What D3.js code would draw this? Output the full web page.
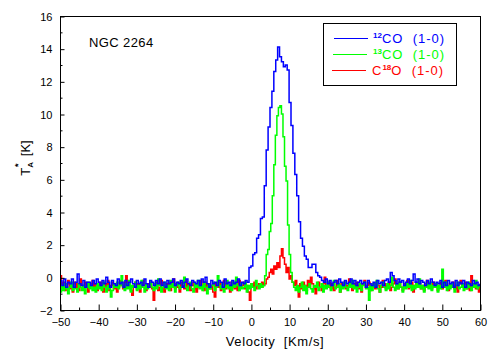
<!DOCTYPE html>
<html>
<head>
<meta charset="utf-8">
<script src="https://cdn.jsdelivr.net/npm/d3@7"></script>
<style>
  body { margin: 0; background: #fff; }
  svg { display: block; }
  text { font-family: "Liberation Sans", Arial, sans-serif; }
</style>
</head>
<body>
<svg id="chart" width="498" height="355"></svg>
<script>
// velocity grid (km/s): first channel and channel width of each spectrum
const V_START = -50
const CO12_STEP = 0.5
const CO13_STEP = 0.4
const C18O_STEP = 0.4

// 12CO (1-0), T_A* [K], one value per 0.5 km/s channel from -50 to 60
const co12 = [
  -0.2, -0.5, -0.1, -0.6, -0.3, -0.4, -0.1, -0.6, -0.3, 0.2,
  -0.4, -0.5, -0.2, -0.6, -0.3, -0.3, -0.5, -0.2, -0.4, -0.1,
  -0.3, -0.5, -0.2, -0.4, 0.0, -0.3, -0.6, -0.2, -0.4, -0.5,
  -0.1, -0.4, -0.3, -0.6, -0.2, -0.5, -0.3, -0.1, -0.4, -0.6,
  -0.2, -0.4, -0.3, -0.5, -0.1, -0.4, -0.6, -0.2, -0.3, -0.5,
  -0.2, -0.4, -0.1, -0.5, -0.3, -0.6, -0.2, -0.4, -0.3, -0.1,
  -0.5, -0.3, -0.4, -0.2, -0.6, -0.3, -0.1, -0.4, -0.5, -0.2,
  -0.3, -0.4, -0.2, -0.5, -0.1, -0.3, 0.0, -0.4, -0.6, -0.2,
  -0.4, -0.3, -0.5, -0.2, -0.3, -0.6, -0.1, -0.4, -0.3, -0.5,
  -0.2, -0.4, -0.3, -0.1, -0.5, -0.3, -0.4, -0.2,
  // line
  -0.3, 0.6, 0.7, 1.4, 1.5, 2.4, 2.6, 3.6, 3.7, 5.6,
  7.8, 9.2, 10.4, 11.4, 12.6, 13.3, 14.1, 13.5, 13.2, 12.9,
  13.0, 12.7, 10.7, 9.3, 7.6, 6.3, 5.0, 3.4, 2.4, 1.9,
  1.3, 1.1, 0.6, 0.6, 0.8, 0.8, 0.3, 0.1, 0.0, -0.2,
  // baseline
  -0.3, -0.1, -0.4, -0.2, -0.5, -0.3, -0.2, -0.4, -0.1, -0.3,
  -0.5, -0.2, -0.4, -0.3, -0.1, -0.4, -0.2, -0.5, -0.3, -0.2,
  -0.4, -0.3, -0.6, -0.2, -0.4, -0.5, -0.3, -0.6, -0.2, -0.4,
  -0.3, -0.5, -0.2, -0.1, -0.3, 0.3, 0.1, -0.2, -0.4, -0.1,
  -0.3, -0.2, -0.5, -0.3, -0.1, -0.4, -0.2, 0.2, -0.3, -0.1,
  -0.4, -0.2, -0.3, -0.5, -0.2, -0.4, -0.1, -0.3, -0.5, -0.3,
  -0.4, -0.2, -0.6, -0.3, -0.5, -0.2, -0.4, -0.3, -0.6, -0.2,
  -0.5, -0.3, -0.4, -0.2, -0.6, -0.3, -0.4, -0.5, -0.2, -0.4,
  -0.3, -0.5, -0.4
]

// 13CO (1-0), one value per 0.4 km/s channel
const co13 = [
  -0.9, -0.5, -0.8, -0.4, -0.7, -1.0, -0.6, -0.3, -0.8, -0.5,
  -0.7, -0.9, -0.4, -0.6, -0.8, -0.5, -1.0, -0.6, -0.3, -0.7,
  -0.5, -0.8, -0.6, -0.9, -0.4, -0.7, -0.5, -0.8, -0.3, -0.6,
  -0.9, -0.5, -0.7, -1.2, -0.8, -0.4, -0.6, -0.3, -0.7, -0.5,
  0.1, -0.6, -0.8, -0.4, -0.7, -0.2, -0.9, -0.5, -0.6, -0.3,
  -0.8, -0.5, -0.7, -0.2, -0.6, -0.9, -0.4, -0.7, -0.5, -0.3,
  -0.6, -0.8, -0.4, -0.7, -0.1, -0.5, -0.9, -0.6, -0.3, -0.7,
  -0.5, -0.8, -0.2, -0.6, -0.4, -0.9, -0.5, -0.3, -0.7, -0.6,
  -0.4, 0.0, -0.6, -0.8, -0.5, -0.3, -0.7, -0.9, -0.4, -0.6,
  -0.2, -0.7, -0.5, -0.8, -0.3, -0.6, -1.0, -0.4, -0.7, -0.5,
  -0.3, -0.8, -0.6, 0.1, -0.5, -0.7, -0.4, -0.9, -0.6, -0.2,
  -0.7, -0.5, -0.8, -0.3, -0.6, 0.0, -0.5, -0.8, -0.4, -0.7,
  -0.6, -0.3, -0.9, -0.5, -0.7, -0.4, -0.6, -0.8, -0.2, -0.5,
  -0.7, -0.4, -0.6,
  // line
  -0.5, 0.1, 1.4, 1.7, 2.8, 3.3, 5.0, 6.9, 8.7, 9.9,
  10.4, 10.5, 10.0, 8.6, 6.8, 5.9, 3.2, 1.4, 0.3, -0.3,
  -0.6, -0.8,
  // baseline
  -0.5, -0.9, -0.6, -0.3, -0.8, -0.5, -1.0, -0.6, -0.4, -0.7,
  -0.9, -0.5, -0.6, -0.3, -0.8, -0.6, -0.4, -0.9, -0.5, -0.7,
  -0.3, -0.6, -0.8, -0.5, -0.2, -0.7, -0.6, -0.4, -0.9, -0.5,
  -0.7, -0.3, -0.6, -0.8, -0.4, -0.6, -0.2, -0.7, -0.5, -0.9,
  -0.6, -0.4, -0.8, -0.5, -0.3, -0.7, -0.6, -1.4, -0.5, -0.8,
  -0.4, -0.6, -0.2, -0.7, -0.9, -0.5, -0.3, -0.6, -0.8, -0.4,
  -0.7, -0.5, 0.0, -0.6, -0.8, -0.4, -0.7, -0.3, -0.6, -0.9,
  -0.5, -0.7, -0.4, -0.6, -0.2, -0.8, -0.5, -0.7, -0.3, -0.6,
  -0.1, -0.7, -0.5, -0.9, -0.6, -0.4, -0.7, -0.3, -0.8, -0.5,
  -0.6, -0.4, -0.9, -0.5, -0.7, 0.5, -0.6, -0.3, -0.8, -0.5,
  -0.7, -0.4, -0.6, -0.9, -0.5, -0.3, -0.7, -0.6, -0.4, -0.8,
  -0.5, -0.7, -0.3, -0.6, -0.8, -0.4, -0.6, -0.2, -0.7, -0.5,
  -0.6
]

// C18O (1-0), one value per 0.4 km/s channel
const c18o = [
  0.1, -0.6, -0.3, -0.8, -0.4, -0.2, -0.7, -0.5, -0.9, -0.3,
  -0.6, -0.4, -0.8, -0.1, -0.5, -0.7, -0.3, -0.6, -0.9, -0.4,
  -0.5, -0.2, -0.7, -0.4, -0.8, -0.5, -0.3, -0.6, -0.9, -0.4,
  -0.6, -0.2, -0.8, -0.5, -0.3, -0.7, -0.4, -0.9, -0.6, -0.2,
  -0.5, -0.7, -0.3, 0.1, -0.6, -0.4, -0.8, -1.1, -0.5, -0.3,
  -0.7, -0.4, -0.9, -0.6, -0.2, -0.5, -0.8, -0.4, -0.6, -0.3,
  -0.7, -1.4, -0.5, -0.3, -0.8, -0.6, -0.2, -0.5, -0.9, -0.4,
  -0.6, -0.3, -0.8, -0.5, -0.1, -0.7, -0.4, -0.6, -0.9, -0.3,
  -0.5, -0.7, -0.2, -0.6, -0.4, -0.8, -0.5, -0.3, -0.7, -0.9,
  -0.4, -0.6, -0.2, -0.5, -0.8, -0.3, -0.6, -0.4, -0.7, -0.5,
  -0.9, -1.2, -0.4, -0.6, -0.3, -0.8, -0.5, -0.2, -0.7, -0.4,
  -0.6, -0.9, -0.3, -0.5, -0.7, -0.4, -0.8, -0.2, -0.6, -0.5,
  -0.3, -0.7, -0.5, -0.9, -1.4, -0.4, -0.6, -0.3, -0.7, -0.5,
  -0.4, -0.6, -0.3, -0.5,
  // line
  -0.4, -0.1, 0.0, 0.3, 0.5, 0.2, 0.7, 0.5, 0.9, 0.6,
  1.3, 1.75, 1.2, 0.8, 0.3, 0.6, -0.1, 0.1, -0.3, -0.5,
  -0.2,
  // baseline
  -0.6, -1.2, -0.4, -0.7, -0.3, -0.5, -0.8, -0.2, -0.6, 0.0,
  -0.4, -0.7, -1.0, -0.5, -0.3, -0.6, -0.8, -0.4, 0.0, -0.6,
  -0.5, -0.3, -0.7, -0.4, -0.8, -0.6, -0.2, -0.5, -0.9, -0.4,
  -0.6, -0.3, -0.7, -0.5, -0.1, -0.6, -0.8, -0.4, -0.6, -0.3,
  -0.7, -0.5, -0.9, -0.4, -0.2, -0.6, -0.5, -0.3, -0.8, -0.6,
  -0.4, -0.7, -0.3, -0.5, -0.9, -0.6, -0.2, -0.4, -0.7, -0.5,
  -0.3, -0.8, -0.6, -0.4, -0.1, -0.5, -0.7, -0.3, -0.6, -0.8,
  -0.4, -0.5, -0.2, -0.7, -0.6, -0.3, -0.9, -0.5, -0.4, -0.6,
  -0.3, -0.7, -0.5, -0.8, -0.4, -0.2, -0.6, -0.5, -0.7, -0.3,
  -0.6, -0.4, -0.8, -0.5, -0.3, -0.7, -0.6, -0.2, -0.5, -0.8,
  -0.4, -0.6, -0.3, -0.7, -0.5, -0.9, -0.4, -0.2, -0.6, -0.5,
  -0.3, -0.7, -0.5, -0.8, 0.1, -0.6, -0.4, -0.7, -0.5, -0.9,
  -0.4
]

const xMajor = [-50, -40, -30, -20, -10, 0, 10, 20, 30, 40, 50, 60]
const xMinor = [-45, -35, -25, -15, -5, 5, 15, 25, 35, 45, 55]
const yMajor = [-2, 0, 2, 4, 6, 8, 10, 12, 14, 16]
const yMinor = [-1, 1, 3, 5, 7, 9, 11, 13, 15]

const series = [
  { name: ['', 'C', '18', 'O (1-0)'], color: '#ff0000', step: C18O_STEP, values: c18o },
  { name: ['13', 'CO (1-0)'], color: '#00ff00', step: CO13_STEP, values: co13 },
  { name: ['12', 'CO (1-0)'], color: '#0000ff', step: CO12_STEP, values: co12 }
]

const plotLeft = 60, plotRight = 480, plotTop = 16, plotBottom = 310

const svg = d3.select('#chart')

const x = d3.scaleLinear().domain([-50, 60]).range([plotLeft, plotRight])
const y = d3.scaleLinear().domain([-2, 16]).range([plotBottom, plotTop])

// 描画範囲のクリップ
svg.append('defs').append('clipPath').attr('id', 'plot-clip')
  .append('rect')
  .attr('x', plotLeft).attr('y', plotTop)
  .attr('width', plotRight - plotLeft).attr('height', plotBottom - plotTop)

const line = d3.line()
  .x(d => x(d.v))
  .y(d => y(d.t))
  .curve(d3.curveStepAfter)

// draw order: red, green, blue on top
const plot = svg.append('g').attr('clip-path', 'url(#plot-clip)')
series.forEach(s => {
  const pts = s.values.map((t, i) => ({ v: V_START + i * s.step, t }))
  plot.append('path')
    .attr('d', line(pts))
    .attr('fill', 'none')
    .attr('stroke', s.color)
    .attr('stroke-width', 1.5)
})

// frame
svg.append('rect')
  .attr('x', plotLeft + 0.5).attr('y', plotTop + 0.5)
  .attr('width', plotRight - plotLeft).attr('height', plotBottom - plotTop)
  .attr('fill', 'none').attr('stroke', '#000').attr('stroke-width', 1)

// x axis (ticks pointing inward)
const xAxis = svg.append('g').attr('transform', `translate(0.5,${plotBottom + 0.5})`)
xAxis.call(d3.axisBottom(x).tickValues(xMajor).tickSize(-6).tickPadding(8).tickFormat(d3.format('d')))
xAxis.append('g').selectAll('line').data(xMinor).enter().append('line')
  .attr('x1', d => x(d)).attr('x2', d => x(d)).attr('y1', 0).attr('y2', -3)
  .attr('stroke', '#000')

// y axis
const yAxis = svg.append('g').attr('transform', `translate(${plotLeft + 0.5},0.5)`)
yAxis.call(d3.axisLeft(y).tickValues(yMajor).tickSize(-4).tickPadding(8).tickFormat(d3.format('d')))
yAxis.append('g').selectAll('line').data(yMinor).enter().append('line')
  .attr('y1', d => y(d)).attr('y2', d => y(d)).attr('x1', 0).attr('x2', 2)
  .attr('stroke', '#000')

svg.selectAll('.domain').remove()
svg.selectAll('.tick text')
  .attr('font-size', 11)
  .attr('font-family', '"Liberation Sans", Arial, sans-serif')
  .attr('fill', '#000')

// axis titles
svg.append('text')
  .attr('x', 275).attr('y', 346)
  .attr('text-anchor', 'middle')
  .attr('font-size', 13)
  .attr('letter-spacing', 0.6)
  .style('white-space', 'pre')
  .text('Velocity  [Km/s]')

const yTitle = svg.append('text')
  .attr('transform', 'translate(30,158) rotate(-90)')
  .attr('text-anchor', 'middle')
  .attr('font-size', 13)
  .style('white-space', 'pre')
yTitle.append('tspan').text('T')
yTitle.append('tspan').attr('font-size', 8).attr('font-weight', 'bold').attr('dy', 3).text('A')
yTitle.append('tspan').attr('font-size', 9).attr('font-weight', 'bold').attr('dx', -5).attr('dy', -12).text('*')
yTitle.append('tspan').attr('dy', 9).text('  [K]')

// source label
svg.append('text')
  .attr('x', 89).attr('y', 46.5)
  .attr('font-size', 13)
  .attr('letter-spacing', 0.4)
  .text('NGC 2264')

// legend
const legend = svg.append('g')
legend.append('rect')
  .attr('x', 323.5).attr('y', 23.5)
  .attr('width', 133).attr('height', 62)
  .attr('fill', '#fff').attr('stroke', '#000').attr('stroke-width', 1)

const legendRows = series.slice().reverse()
legendRows.forEach((s, i) => {
  const ly = 38.5 + i * 16
  legend.append('line')
    .attr('x1', 334 - i).attr('x2', 368 - i)
    .attr('y1', ly).attr('y2', ly)
    .attr('stroke', s.color).attr('stroke-width', 1)
  const t = legend.append('text')
    .attr('x', s.name[0] === '' ? 372 : 373).attr('y', ly + 4)
    .attr('fill', s.color)
    .attr('font-size', 13)
    .attr('letter-spacing', 1)
    .style('white-space', 'pre')
  if (s.name[0] === '') {
    t.append('tspan').text(s.name[1])
    t.append('tspan').attr('font-size', 8).attr('font-weight', 'bold').attr('letter-spacing', 0).attr('dy', -5).text(s.name[2])
    t.append('tspan').attr('dy', 5).text(s.name[3].replace(' ', '  '))
  } else {
    t.append('tspan').attr('font-size', 8).attr('font-weight', 'bold').attr('letter-spacing', 0).attr('dy', -5).text(s.name[0])
    t.append('tspan').attr('dy', 5).text(s.name[1].replace(' ', '  '))
  }
})
</script>
</body>
</html>
